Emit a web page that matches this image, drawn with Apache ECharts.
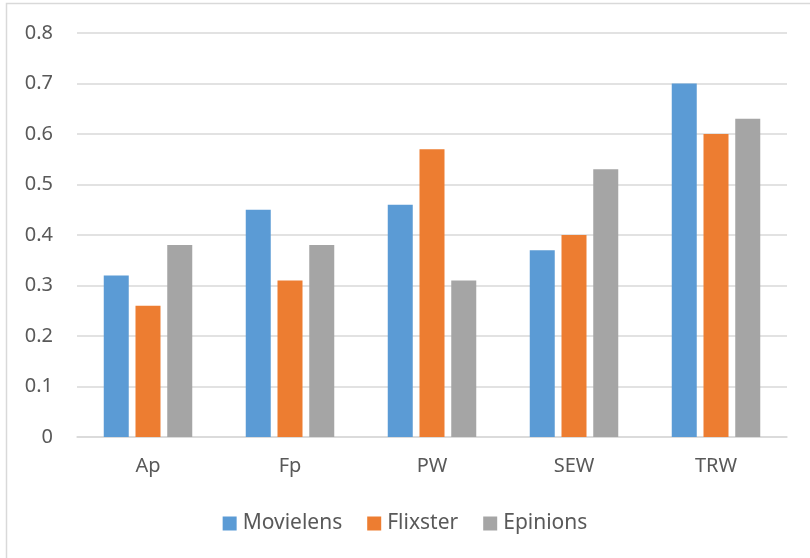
<!DOCTYPE html>
<html>
<head>
<meta charset="utf-8">
<script src="https://cdn.jsdelivr.net/npm/echarts@6/dist/echarts.min.js"></script>
<style>
  html, body { margin: 0; padding: 0; background: #fff; }
  #chart { width: 810px; height: 558px; }
</style>
</head>
<body>
<div id="chart"></div>
<script>
// categories and series values
const categories = ["Ap", "Fp", "PW", "SEW", "TRW"];
const movielens = [0.32, 0.45, 0.46, 0.37, 0.70];
const flixster = [0.26, 0.31, 0.57, 0.40, 0.60];
const epinions = [0.38, 0.38, 0.31, 0.53, 0.63];
const seriesNames = ["Movielens", "Flixster", "Epinions"];

const labelColor = "#595959";
const gridColor = "#d9d9d9";
const fontFamily = "'Noto Sans', sans-serif";

let myChart = echarts.init(document.getElementById("chart"));

function bar(name, data, color) {
   return {
      name: name,
      type: "bar",
      barWidth: 25,
      barGap: "27%",
      itemStyle: { color: color },
      data: data,
   };
}

let option = {
   backgroundColor: "#fff",
   animation: false,
   // 外框
   graphic: [
      {
         type: "rect",
         shape: { x: 6.5, y: 3.5, width: 1000, height: 1000 },
         style: { fill: "none", stroke: gridColor, lineWidth: 1.5 },
         silent: true,
      },
   ],
   legend: {
      top: 508,
      left: "center",
      icon: "rect",
      itemWidth: 14,
      itemHeight: 14,
      itemGap: 25,
      textStyle: { color: labelColor, fontSize: 21, fontFamily: fontFamily, padding: [0, 0, 0, 1] },
      data: seriesNames,
   },
   grid: {
      left: 77,
      right: 23,
      top: 33,
      bottom: 121,
      containLabel: false,
   },
   xAxis: {
      type: "category",
      data: categories,
      axisTick: { show: false },
      axisLine: { show: true, lineStyle: { color: gridColor, width: 1.5 } },
      axisLabel: {
         color: labelColor,
         fontSize: 20,
         fontFamily: fontFamily,
         margin: 19,
      },
   },
   yAxis: {
      type: "value",
      min: 0,
      max: 0.8,
      interval: 0.1,
      axisLine: { show: false },
      axisTick: { show: false },
      axisLabel: {
         color: labelColor,
         fontSize: 20,
         fontFamily: fontFamily,
         margin: 24,
         formatter: (v) => (v === 0 ? "0" : v.toFixed(1)),
      },
      splitLine: { show: true, lineStyle: { color: gridColor, width: 1.5 } },
   },
   series: [
      bar(seriesNames[0], movielens, "#5b9bd5"),
      bar(seriesNames[1], flixster, "#ed7d31"),
      bar(seriesNames[2], epinions, "#a5a5a5"),
   ],
};

option && myChart.setOption(option);
</script>
</body>
</html>
